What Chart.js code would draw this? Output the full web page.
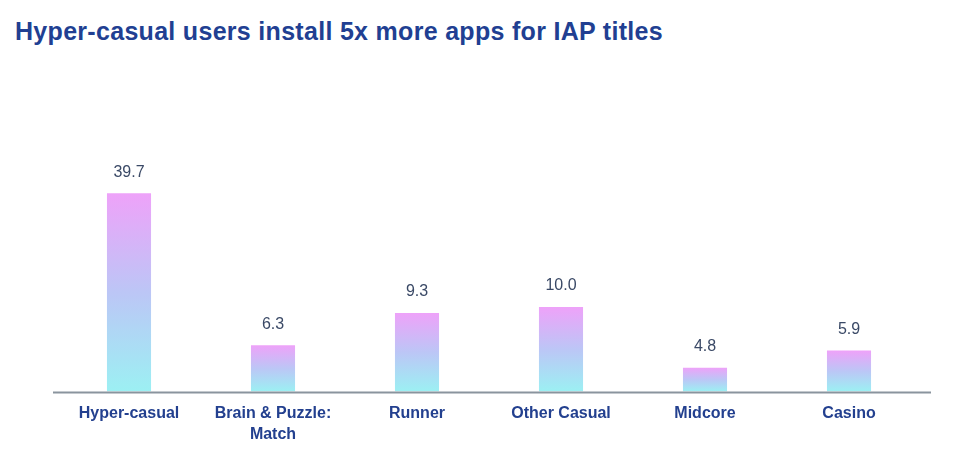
<!DOCTYPE html>
<html>
<head>
<meta charset="utf-8">
<script src="https://cdn.jsdelivr.net/npm/chart.js@4/dist/chart.umd.min.js"></script>
<style>
  html, body { margin: 0; padding: 0; background: #fff; }
  #wrap { position: relative; width: 960px; height: 466px; }
  #title {
    position: absolute; left: 15px; top: 17px; margin: 0;
    font: bold 25px "Liberation Sans", Arial, sans-serif;
    letter-spacing: 0.3px;
    color: #213f92;
  }
  canvas { position: absolute; left: 0; top: 0; }
</style>
</head>
<body>
<div id="wrap">
  <h1 id="title">Hyper-casual users install 5x more apps for IAP titles</h1>
  <canvas id="chart" width="960" height="466"></canvas>
</div>
<script>
// カテゴリと値
const categories = ['Hyper-casual', ['Brain & Puzzle:', 'Match'], 'Runner', 'Other Casual', 'Midcore', 'Casino'];
const installs = [39.7, 6.3, 9.3, 10.0, 4.8, 5.9];
const valueLabels = ['39.7', '6.3', '9.3', '10.0', '4.8', '5.9'];

// バーごとのグラデーション（上：ピンク、下：シアン）
function barGradient(context) {
    const chart = context.chart;
    const area = chart.chartArea;
    if (!area) return '#c4b8f6';
    const y = chart.scales.y.getPixelForValue(installs[context.dataIndex]);
    const g = chart.ctx.createLinearGradient(0, y, 0, area.bottom);
    g.addColorStop(0, '#eea2f9');
    g.addColorStop(0.5, '#bcc6f6');
    g.addColorStop(1, '#9cf0f3');
    return g;
}

// 数値ラベルとベースライン
const valueLabelPlugin = {
    id: 'valueLabels',
    afterDatasetsDraw(chart) {
        const ctx = chart.ctx;
        const area = chart.chartArea;
        const meta = chart.getDatasetMeta(0);
        ctx.save();
        // ベースライン（プロット領域より少し長い）
        ctx.strokeStyle = '#8a949e';
        ctx.lineWidth = 2;
        ctx.beginPath();
        ctx.moveTo(area.left - 4, area.bottom + 1);
        ctx.lineTo(area.right + 10, area.bottom + 1);
        ctx.stroke();

        ctx.font = '16px "Liberation Sans", Arial, sans-serif';
        ctx.fillStyle = '#3a4966';
        ctx.textAlign = 'center';
        ctx.textBaseline = 'middle';
        meta.data.forEach((bar, i) => {
            ctx.fillText(valueLabels[i], bar.x, bar.y - 21);
        });
        ctx.restore();
    }
};

const ctx = document.getElementById('chart').getContext('2d');
new Chart(ctx, {
    type: 'bar',
    data: {
        labels: categories,
        datasets: [{
            data: installs,
            backgroundColor: barGradient,
            borderWidth: 0,
            barPercentage: 0.306,
            categoryPercentage: 1.0
        }]
    },
    options: {
        responsive: false,
        animation: false,
        layout: {
            padding: { left: 57, right: 39, top: 117, bottom: 9 }
        },
        plugins: {
            legend: { display: false },
            tooltip: { enabled: false }
        },
        scales: {
            x: {
                grid: { display: false, drawTicks: false },
                border: { display: false },
                ticks: {
                    color: '#23408f',
                    padding: 12,
                    font: { family: '"Liberation Sans", Arial, sans-serif', size: 16, weight: 'bold', lineHeight: 1.3 }
                }
            },
            y: {
                type: 'logarithmic',
                display: false,
                min: 3.6,
                max: 100
            }
        }
    },
    plugins: [valueLabelPlugin]
});
</script>
</body>
</html>
